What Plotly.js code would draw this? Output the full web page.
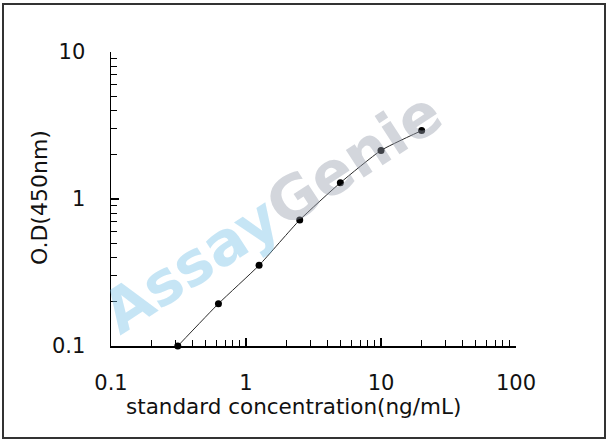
<!DOCTYPE html>
<html>
<head>
<meta charset="utf-8">
<script src="https://cdn.plot.ly/plotly-3.0.1.min.js"></script>
<style>
  html, body { margin: 0; padding: 0; background: #fff; }
  #chart { width: 608px; height: 441px; }
</style>
</head>
<body>
<div id="chart"></div>
<script>
// Standard curve: concentration (ng/mL) vs optical density
const concentration = [0.3125, 0.625, 1.25, 2.5, 5, 10, 20];
const opticalDensity = [0.100, 0.194, 0.354, 0.72, 1.29, 2.14, 2.92];

const xTickVals = [0.1, 1, 10, 100];
const xTickText = ['0.1', '1', '10', '100'];
const yTickVals = [0.1, 1, 10];
const yTickText = ['0.1', '1', '10'];

const xTitle = 'standard concentration(ng/mL)';
const yTitle = 'O.D(450nm)';

// plot area in pixels (from the reference)
const margin = { l: 111, r: 92, t: 52, b: 95 };
const W = 608, H = 441;
const plotW = W - margin.l - margin.r;
const plotH = H - margin.t - margin.b;

// helpers to turn page pixels into paper coords
const px = x => (x - margin.l) / plotW;
const py = y => (H - margin.b - y) / plotH;

const font = 'DejaVu Sans, Arial, sans-serif';

const trace = {
    x: concentration,
    y: opticalDensity,
    mode: 'lines+markers',
    line: { color: '#2a2a2a', width: 1, shape: 'spline', smoothing: 0.5 },
    marker: { color: '#000', size: 7 },
    cliponaxis: false,
    hoverinfo: 'x+y'
};

const axisCommon = {
    type: 'log',
    showgrid: false,
    zeroline: false,
    showline: true,
    linecolor: '#000',
    linewidth: 1.5,
    ticks: 'inside',
    ticklen: 8,
    tickwidth: 1.2,
    tickcolor: '#000',
    tickfont: { family: font, size: 21, color: '#111' },
    tickmode: 'array',
    minor: { ticks: 'inside', ticklen: 6, tickwidth: 1, tickcolor: '#000', dtick: 'D1', showgrid: false }
};

const layout = {
    width: W,
    height: H,
    margin: margin,
    paper_bgcolor: '#fff',
    plot_bgcolor: '#fff',
    showlegend: false,
    xaxis: Object.assign({}, axisCommon, {
        range: [-1, 2],
        tickvals: xTickVals,
        ticktext: xTickText,
        ticklabelstandoff: 17
    }),
    yaxis: Object.assign({}, axisCommon, {
        range: [-1, 1],
        tickvals: yTickVals,
        ticktext: yTickText,
        ticklabelstandoff: 20
    }),
    shapes: [{
        type: 'rect', xref: 'paper', yref: 'paper',
        x0: px(3), x1: px(605), y0: py(438), y1: py(4),
        line: { color: '#333', width: 2 }
    }],
    annotations: [
        {
            // watermark
            text: '<span style="color:rgba(120,192,232,0.42)">Assay</span><span style="color:rgba(150,158,172,0.42)">Genie</span>',
            xref: 'paper', yref: 'paper', x: px(272), y: py(212),
            showarrow: false, textangle: -33,
            font: { family: 'DejaVu Sans, sans-serif', size: 60, weight: 'bold' }
        },
        {
            text: xTitle,
            xref: 'paper', yref: 'paper', x: px(293), y: py(407),
            showarrow: false, xanchor: 'center', yanchor: 'middle',
            font: { family: font, size: 21.5, color: '#111' }
        },
        {
            text: yTitle,
            xref: 'paper', yref: 'paper', x: px(39), y: py(198),
            showarrow: false, textangle: -90, xanchor: 'center', yanchor: 'middle',
            font: { family: font, size: 22, color: '#111' }
        }
    ]
};

Plotly.newPlot('chart', [trace], layout, { displayModeBar: false, staticPlot: true });
</script>
</body>
</html>
